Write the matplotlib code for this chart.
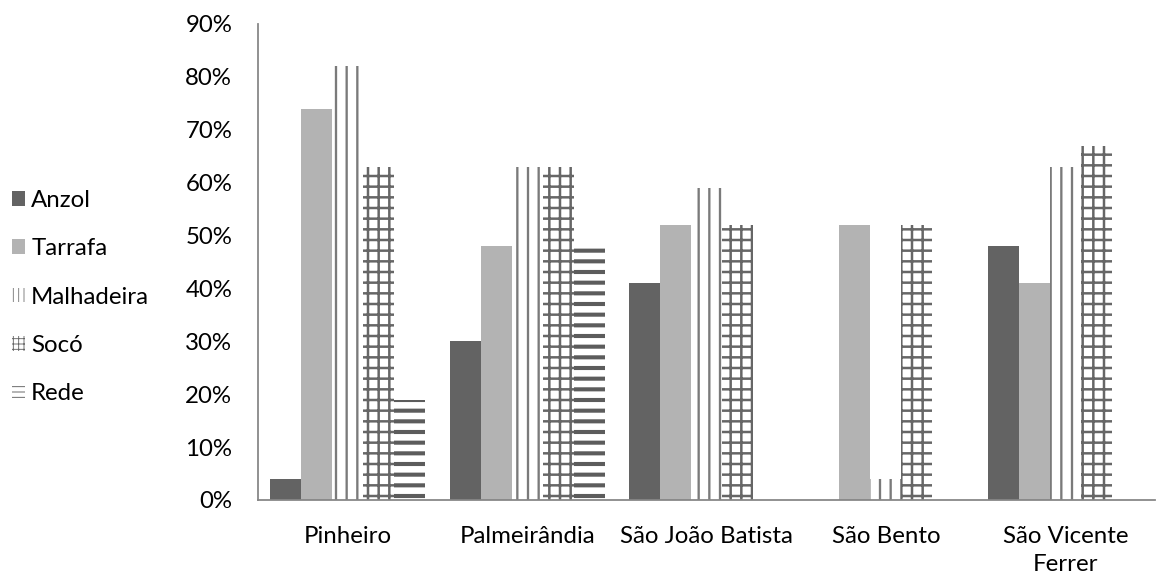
import matplotlib
matplotlib.use("Agg")
import matplotlib.pyplot as plt
from matplotlib.patches import Patch
import numpy as np

# Data: share of fishermen using each gear, by municipality
categories = ["Pinheiro", "Palmeirândia", "São João Batista", "São Bento", "São Vicente\nFerrer"]
series_names = ["Anzol", "Tarrafa", "Malhadeira", "Socó", "Rede"]
anzol = [0.04, 0.30, 0.41, 0.00, 0.48]
tarrafa = [0.74, 0.48, 0.52, 0.52, 0.41]
malhadeira = [0.82, 0.63, 0.59, 0.04, 0.63]
soco = [0.63, 0.63, 0.52, 0.52, 0.67]
rede = [0.19, 0.48, 0.00, 0.00, 0.00]
y_ticks = [0, 0.1, 0.2, 0.3, 0.4, 0.5, 0.6, 0.7, 0.8, 0.9]
y_tick_labels = ["0%", "10%", "20%", "30%", "40%", "50%", "60%", "70%", "80%", "90%"]

values = [anzol, tarrafa, malhadeira, soco, rede]

# Per-series styling: face, hatch (bars / legend key), hatch colour, hatch line width
styles = [
    dict(facecolor="#636363", hatch=None, key_hatch=None, edgecolor="#636363", hlw=1.0),
    dict(facecolor="#b3b3b3", hatch=None, key_hatch=None, edgecolor="#b3b3b3", hlw=1.0),
    dict(facecolor="white", hatch="|", key_hatch="||", edgecolor="#7a7a7a", hlw=2.6),
    dict(facecolor="white", hatch="+", key_hatch="++", edgecolor="#666666", hlw=2.8),
    dict(facecolor="white", hatch="-", key_hatch="--", edgecolor="#5c5c5c", hlw=4.6),
]

DPI = 64
W, H = 1157, 575
plt.rcParams["font.family"] = ["Lato", "DejaVu Sans"]
fig = plt.figure(figsize=(W / DPI, H / DPI), dpi=DPI)
ax = fig.add_axes([258 / W, 75 / H, (1155 - 258) / W, (500 - 24) / H])

x = np.arange(len(categories))
bar_w = 0.173
offsets = (np.arange(len(series_names)) - 2) * bar_w


def set_hlw(patch, lw):
    if hasattr(patch, "set_hatch_linewidth"):
        patch.set_hatch_linewidth(lw)


key_handles = []
for name, vals, off, st in zip(series_names, values, offsets, styles):
    with plt.rc_context({"hatch.linewidth": st["hlw"]}):
        bars = ax.bar(x + off, vals, width=bar_w, color=st["facecolor"],
                      edgecolor=st["edgecolor"], hatch=st["hatch"],
                      linewidth=0, label=name)
        for b in bars:
            set_hlw(b, st["hlw"])
    key_lw = min(st["hlw"], 2.4)
    with plt.rc_context({"hatch.linewidth": key_lw}):
        key = Patch(facecolor=st["facecolor"], edgecolor=st["edgecolor"],
                    hatch=st["key_hatch"], linewidth=0, label=name)
        set_hlw(key, key_lw)
    key_handles.append(key)

ax.set_xlim(-0.5, len(categories) - 0.5)
ax.set_ylim(0, 0.9)
ax.set_yticks(y_ticks)
ax.set_yticklabels(y_tick_labels)
ax.set_xticks(x)
ax.set_xticklabels(categories, linespacing=1.4)

fs = 27
ax.tick_params(axis="y", length=0, pad=29, labelsize=fs, labelcolor="#000000")
ax.tick_params(axis="x", length=0, pad=29, labelsize=fs, labelcolor="#000000")

for side in ("top", "right"):
    ax.spines[side].set_visible(False)
for side in ("left", "bottom"):
    ax.spines[side].set_color("#868686")
    ax.spines[side].set_linewidth(2.0)

leg = fig.legend(handles=key_handles, loc="center left", bbox_to_anchor=(0.0, 1 - 297 / H),
                 frameon=False, fontsize=fs, handlelength=0.55, handleheight=0.55,
                 handletextpad=0.25, labelspacing=1.14, borderaxespad=0.1)

fig.savefig("out.png", dpi=DPI)
